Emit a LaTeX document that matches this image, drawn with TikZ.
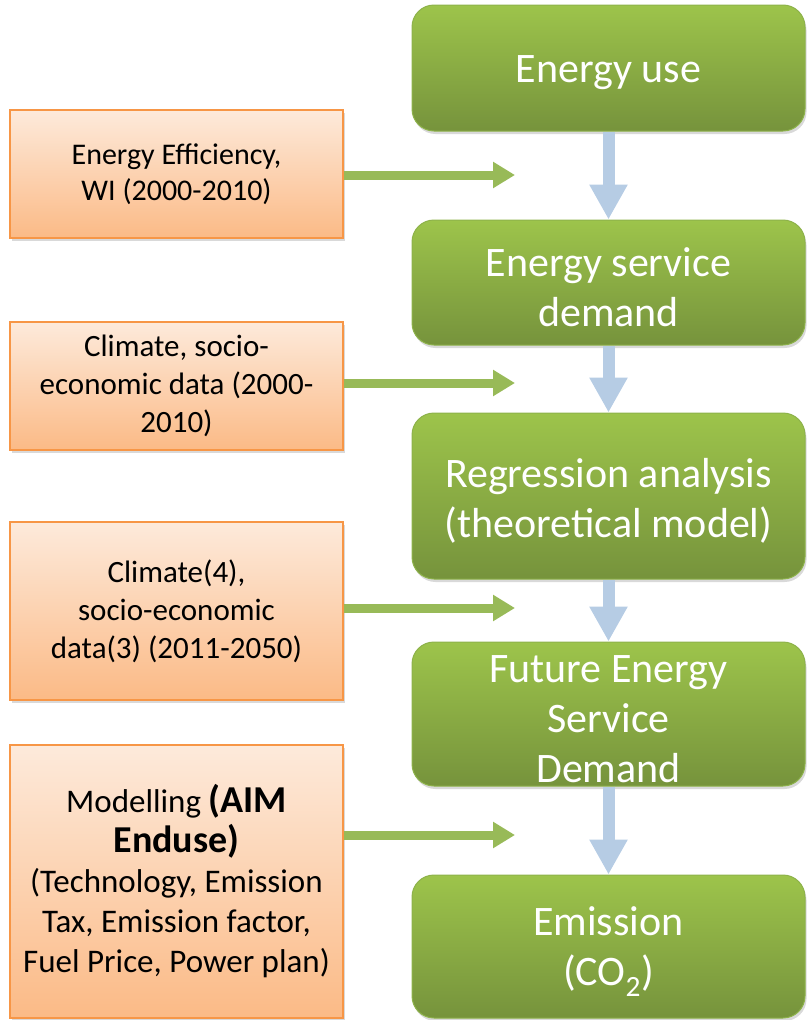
\documentclass[tikz,border=0pt]{standalone}
\usepackage{fontspec}
\setmainfont{Carlito}
\usetikzlibrary{arrows.meta,shadows}
\definecolor{stepTop}{HTML}{9DC44B}
\definecolor{stepBot}{HTML}{76933C}
\definecolor{stepLine}{HTML}{8DB24A}
\definecolor{inTop}{HTML}{FDEADB}
\definecolor{inBot}{HTML}{FBBA86}
\definecolor{inLine}{HTML}{F79646}
\definecolor{flowBlue}{HTML}{B6CCE4}
\definecolor{feedGreen}{HTML}{98BA58}
\tikzset{
  stepbox/.style={rectangle, rounded corners=22pt, draw=stepLine, line width=1pt,
    top color=stepTop, bottom color=stepBot,
    minimum width=393pt, inner sep=0pt,
    drop shadow={opacity=0.3, shadow xshift=1.5pt, shadow yshift=-3pt}},
  steptext/.style={text=white, align=center, inner sep=0pt, yshift=-5pt,
    font=\fontsize{42}{50}\selectfont},
  inbox/.style={rectangle, draw=inLine, line width=1.5pt,
    top color=inTop, bottom color=inBot, text=black, align=center,
    minimum width=333pt, inner sep=0pt,
    font=\fontsize{31}{38}\selectfont,
    drop shadow={opacity=0.3, shadow xshift=1.5pt, shadow yshift=-3pt}},
  flow/.style={draw=flowBlue, line width=12pt,
    -{Triangle[width=36pt,length=35pt]}},
  feed/.style={draw=feedGreen, line width=9pt,
    -{Triangle[width=25pt,length=22pt]}}
}
\begin{document}
\begin{tikzpicture}[x=1pt,y=-1pt]
\useasboundingbox (0,0) rectangle (807,1020);

% main chain of steps
\node[stepbox, minimum height=126pt, label={[steptext]center:Energy use}] (g1) at (608.5,68) {};
\node[stepbox, minimum height=125pt, label={[steptext]center:Energy service\\demand}] (g2) at (608.5,282.5) {};
\node[stepbox, minimum height=166pt, label={[steptext]center:Regression analysis\\(theoretical model)}] (g3) at (608.5,496) {};
\node[stepbox, minimum height=144pt, label={[steptext]center:Future Energy\\Service\\Demand}] (g4) at (608.5,714) {};
\node[stepbox, minimum height=143pt, label={[steptext]center:Emission\\(CO\textsubscript{2})}] (g5) at (608.5,946.5) {};

% input data boxes
\node[inbox, minimum height=128pt, font=\fontsize{30}{36}\selectfont] (o1) at (176.5,174) {Energy Efficiency,\\WI (2000-2010)};
\node[inbox, minimum height=128pt] (o2) at (176.5,386) {Climate, socio-\\economic data (2000-\\2010)};
\node[inbox, minimum height=178pt] (o3) at (176.5,611) {Climate(4),\\socio-economic\\data(3) (2011-2050)};
\node[inbox, minimum height=273pt, font=\fontsize{33}{40}\selectfont] (o4) at (176.5,881.5)
  {Modelling {\fontsize{38}{42}\selectfont\bfseries (AIM}\\{\fontsize{38}{42}\selectfont\bfseries Enduse)}\\(Technology, Emission\\Tax, Emission factor,\\Fuel Price, Power plan)};

% flow between steps
\draw[flow] (g1.south) -- (g2.north);
\draw[flow] (g2.south) -- (g3.north);
\draw[flow] (g3.south) -- (g4.north);
\draw[flow] (g4.south) -- (g5.north);

% arrow ends beside the chain
\coordinate (t1) at (515,175);
\coordinate (t2) at (515,383);
\coordinate (t3) at (515,608);
\coordinate (t4) at (515,835);
\draw[feed] (o1.east |- t1) -- (t1);
\draw[feed] (o2.east |- t2) -- (t2);
\draw[feed] (o3.east |- t3) -- (t3);
\draw[feed] (o4.east |- t4) -- (t4);
\end{tikzpicture}
\end{document}
